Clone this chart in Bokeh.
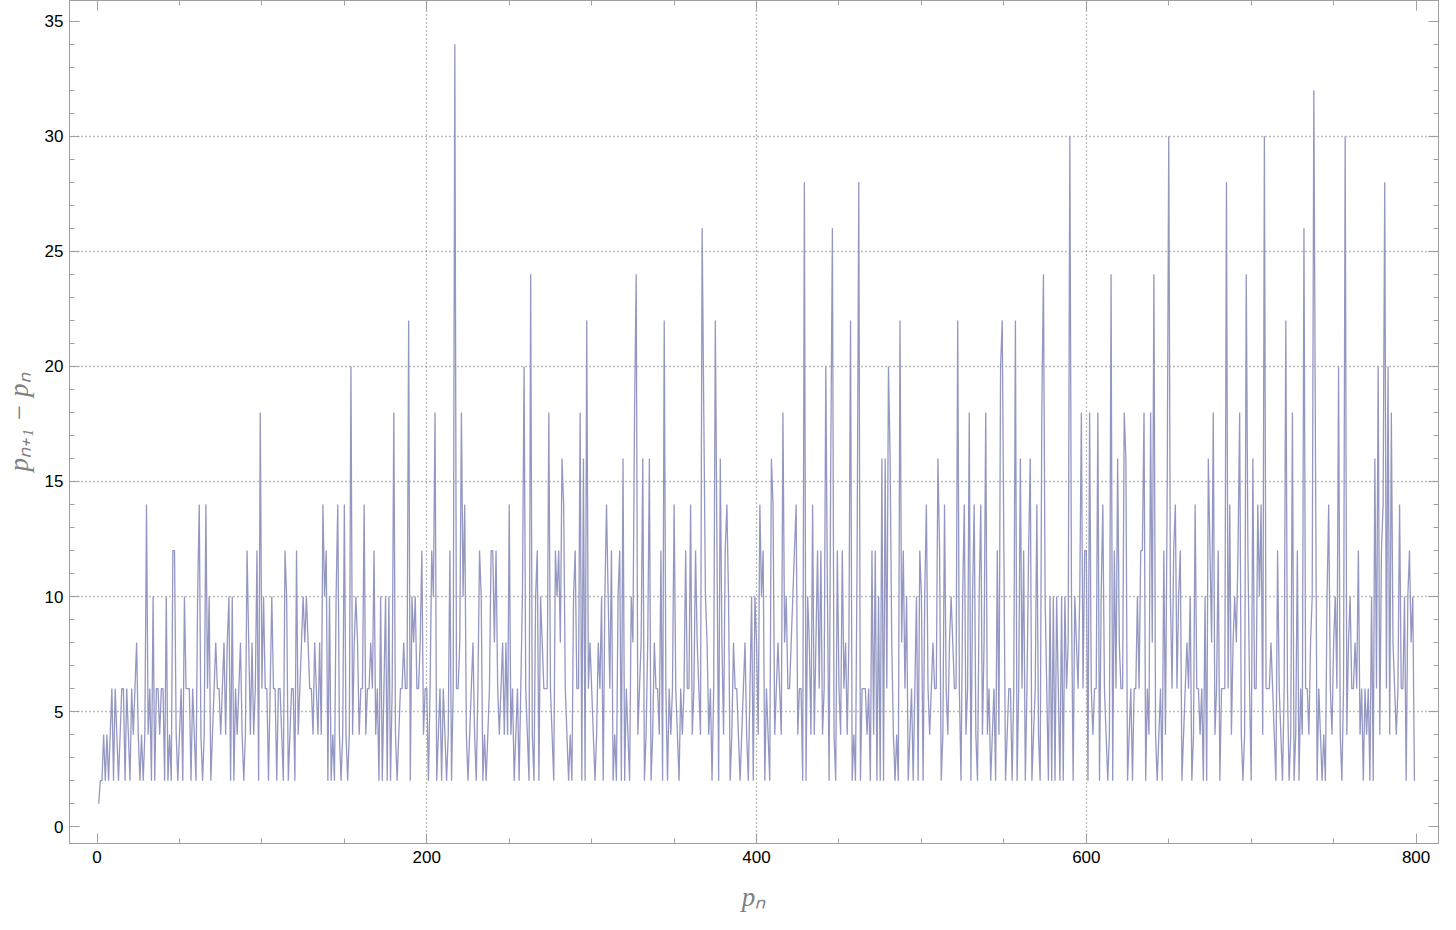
import numpy as np
from bokeh.plotting import figure
from bokeh.models import Range1d, LinearAxis, FixedTicker
from bokeh.embed import file_html
from bokeh.resources import INLINE

# prime gaps p(n+1) - p(n), grouped by the size of p(n)
gaps_below_1000 = [
    1, 2, 2, 4, 2, 4, 2, 4, 6, 2, 6, 4, 2, 4, 6, 6, 2, 6, 4, 2, 6, 4, 6, 8, 4,
    2, 4, 2, 4, 14, 4, 6, 2, 10, 2, 6, 6, 4, 6, 6, 2, 10, 2, 4, 2, 12,
    12, 4, 2, 4, 6, 2, 10, 6, 6, 6, 2, 6, 4, 2, 10, 14,
    4, 2, 4, 14, 6, 10, 2, 4, 6, 8, 6, 6, 4, 6, 8, 4,
    8, 10, 2, 10, 2, 6, 4, 6, 8, 4, 2, 4, 12, 8, 4, 8, 4,
    6, 12, 2, 18, 6, 10, 6, 6, 2, 6, 10, 6, 6, 2,
    6, 6, 4, 2, 12, 10, 2, 4, 6, 6, 2, 12, 4, 6, 8, 10,
    8, 10, 8, 6, 6, 4, 8, 6, 4, 8, 4, 14, 10, 12,
    2, 10, 2, 4, 2, 10, 14, 4, 2, 4, 14, 4, 2, 4, 20,
    4, 8, 10, 8, 4, 6, 6, 14, 4, 6, 6, 8, 6, 12,
]
gaps_1000s = [
    4, 6, 2, 10, 2, 6, 10, 2, 10, 2, 6, 18, 4, 2, 4, 6,
    6, 8, 6, 6, 22, 2, 10, 8, 10, 6, 6, 8,
    12, 4, 6, 6, 2, 6, 12, 10, 18, 2, 4, 6, 2, 6, 4,
    2, 4, 12, 2, 6, 34, 6, 6, 8, 18, 10,
    14, 4, 2, 4, 6, 8, 4, 2, 6, 12, 10, 2, 4, 2, 4, 6, 12,
    12, 8, 12, 6, 4, 6, 8, 4, 8, 4, 14, 4,
    6, 2, 4, 6, 2, 6, 10, 20, 6, 4, 2, 24, 4, 2, 10,
    12, 2, 10, 8, 6, 6, 6, 18, 6, 4, 2, 12,
    10, 12, 8, 16, 14, 6, 4, 2, 4, 2, 10, 12,
    6, 6, 18, 2, 16, 2, 22, 6, 8, 6, 4, 2, 4,
]
gaps_2000s = [
    8, 6, 10, 2, 10, 14, 10, 6, 12, 2, 4, 2, 10, 12,
    2, 16, 2, 6, 4, 2, 10, 8, 18, 24,
    4, 6, 8, 16, 2, 4, 8, 16, 2, 4, 8, 6, 6, 4, 12,
    2, 22, 6, 2, 6, 4, 6, 14, 6, 4, 2, 6, 4, 6, 12,
    6, 6, 14, 4, 6, 12, 8, 6, 4, 26,
    18, 10, 8, 4, 6, 2, 6, 22, 12, 2, 16,
    8, 4, 12, 14, 10, 2, 4, 8, 6, 6, 4, 2, 4, 6, 8,
    4, 2, 6, 10, 2, 10, 8, 4, 14, 10, 12, 2, 6, 4,
    2, 16, 14, 4, 6, 8, 6, 4, 18, 8, 10, 6,
    6, 8, 10, 12, 14, 4, 6, 6, 2, 28, 2,
]
gaps_3000s = [
    10, 8, 4, 14, 4, 8, 12, 6, 12, 4, 6, 20,
    10, 2, 16, 26, 4, 2, 12, 6, 4, 12,
    6, 8, 4, 8, 22, 2, 4, 2, 12, 28, 2,
    6, 6, 6, 4, 6, 2, 12, 4, 12, 2, 10, 2, 16, 2, 16,
    6, 20, 16, 8, 4, 2, 4, 2, 22, 8, 12,
    6, 10, 2, 4, 6, 2, 6, 10, 2, 12, 10, 2, 10, 14,
    6, 4, 6, 8, 6, 6, 16, 12, 2, 4, 14, 6, 4,
    8, 10, 8, 6, 6, 22, 6, 2, 10, 14, 4, 6,
    18, 2, 10, 14, 4, 2, 10, 14, 4, 8, 18,
    4, 6, 2, 4, 6, 2, 12, 4, 20, 22, 12,
]
gaps_4000s = [
    2, 4, 6, 6, 2, 6, 22, 2, 6, 16, 6, 12, 2, 6, 12,
    16, 2, 4, 6, 14, 4, 2, 18, 24,
    10, 6, 2, 10, 2, 10, 2, 10, 6, 2, 10, 2, 10, 6, 8, 30,
    10, 2, 10, 8, 6, 10, 18, 6, 12,
    12, 2, 18, 6, 4, 6, 6, 18, 2, 10, 14,
    6, 4, 2, 4, 24, 2, 12, 6, 16, 8, 6, 6,
    18, 16, 2, 4, 6, 2, 6, 6, 10, 6, 12, 12,
    18, 2, 6, 4, 18, 8, 24, 4, 2, 4, 6, 2,
    12, 4, 14, 30, 10, 6, 12, 14,
    6, 10, 12, 2, 4, 6, 8, 6, 10, 2, 4, 14, 6, 6, 4,
]
gaps_5000s = [
    6, 2, 10, 2, 16, 12, 8, 18, 4, 6, 12, 2,
    6, 6, 6, 28, 6, 14, 4, 8, 10, 8, 12,
    18, 4, 2, 4, 24, 12, 6, 2, 16, 6,
    6, 14, 10, 14, 4, 30, 6, 6, 6, 8,
    6, 4, 2, 12, 6, 4, 2, 6, 22, 6, 2, 4, 18,
    2, 4, 12, 2, 6, 4, 26, 6, 6, 4, 8, 10, 32,
    16, 2, 6, 4, 2, 4, 2, 10, 14, 6, 4, 8,
    10, 6, 20, 4, 2, 6, 30, 4, 8, 10,
    6, 6, 8, 6, 12, 4, 6, 2, 6, 4, 6, 2, 10, 2, 16, 6,
    20, 4, 12, 14, 28, 6, 20,
]
gaps_6000s = [4, 18, 8, 6, 4, 6, 14, 6, 6, 10, 2, 10, 12, 8, 10, 2]

gaps = (gaps_below_1000 + gaps_1000s + gaps_2000s + gaps_3000s
        + gaps_4000s + gaps_5000s + gaps_6000s)
n = np.arange(1, len(gaps) + 1)

x_major = [0, 200, 400, 600, 800]
x_minor = list(range(0, 801, 50))
y_major = [0, 5, 10, 15, 20, 25, 30, 35]
y_minor = list(range(0, 36))

frame_color = "#a0a0a0"

p = figure(
    width=1440,
    height=914,
    x_range=Range1d(-16.7, 813.6),
    y_range=Range1d(-0.73, 35.9),
    output_backend="svg",
    toolbar_location=None,
    min_border_left=66,
    min_border_right=2,
    min_border_top=0,
    min_border_bottom=70,
)

p.xaxis.ticker = FixedTicker(ticks=x_major, minor_ticks=x_minor)
p.yaxis.ticker = FixedTicker(ticks=y_major, minor_ticks=y_minor)

# frame ticks on the top and right as well, with blank labels
top = LinearAxis(ticker=FixedTicker(ticks=x_major, minor_ticks=x_minor),
                 major_label_overrides={t: "" for t in x_major})
right = LinearAxis(ticker=FixedTicker(ticks=y_major, minor_ticks=y_minor),
                   major_label_overrides={t: "" for t in y_major})
p.add_layout(top, "above")
p.add_layout(right, "right")

for ax in p.axis:
    ax.axis_line_color = frame_color
    ax.major_tick_line_color = frame_color
    ax.minor_tick_line_color = frame_color
    ax.major_tick_in = 10
    ax.major_tick_out = 0
    ax.minor_tick_in = 5
    ax.minor_tick_out = 0
    ax.major_label_text_font = "Liberation Sans"
    ax.major_label_text_font_size = "17px"
    ax.major_label_text_color = "black"

for ax in (top, right):
    ax.major_label_text_font_size = "1px"
    ax.major_label_standoff = 0

p.outline_line_color = frame_color

xa = p.below[0]
ya = p.left[0]
xa.axis_label = "pₙ"
ya.axis_label = "pₙ₊₁ − pₙ"
for ax in (xa, ya):
    ax.axis_label_text_font = "Liberation Serif"
    ax.axis_label_text_font_style = "italic"
    ax.axis_label_text_font_size = "27px"
    ax.axis_label_text_color = "#808080"
xa.major_label_standoff = 7
xa.axis_label_standoff = 16
ya.major_label_standoff = 6
ya.axis_label_standoff = 8

p.xgrid.ticker = FixedTicker(ticks=[200, 400, 600])
p.ygrid.ticker = FixedTicker(ticks=[5, 10, 15, 20, 25, 30])
p.grid.grid_line_color = "#7a7a7a"
p.grid.grid_line_dash = "1 3"
p.grid.grid_line_width = 1.3

p.line(n, gaps, line_color="#9497c2", line_width=1.3)

open("out.html", "w").write(file_html(p, INLINE))
